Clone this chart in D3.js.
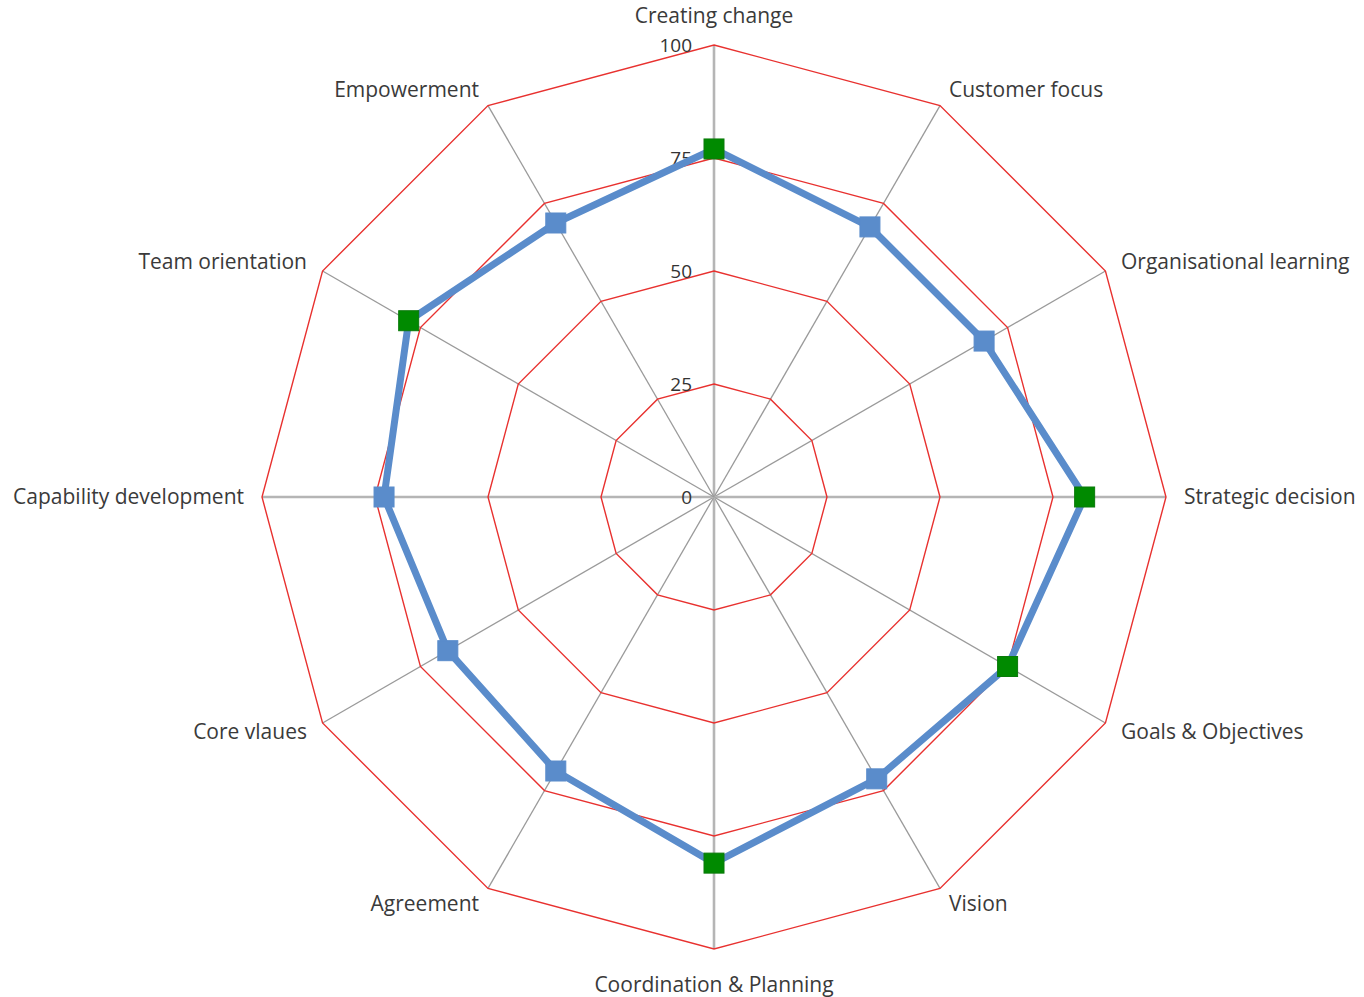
<!DOCTYPE html>
<html>
<head>
<meta charset="utf-8">
<script src="https://cdn.jsdelivr.net/npm/d3@7"></script>
<style>
  body { margin: 0; background: #fff; }
  text { font-family: "Open Sans", sans-serif; }
</style>
</head>
<body>
<div id="chart"></div>
<script>
// categories, clockwise from the top
var categories = ["Creating change", "Customer focus", "Organisational learning", "Strategic decision",
  "Goals & Objectives", "Vision", "Coordination & Planning", "Agreement", "Core vlaues",
  "Capability development", "Team orientation", "Empowerment"];
var scores = [77, 69, 69, 82, 75, 72, 81, 70, 68, 73, 78, 70];
// points drawn with green markers
var highlighted = ["Creating change", "Strategic decision", "Goals & Objectives",
  "Coordination & Planning", "Team orientation"];
var ticks = [0, 25, 50, 75, 100];

var width = 1364, height = 997;
var cx = 714, cy = 497, R = 452;

var svg = d3.select("#chart").append("svg")
    .attr("width", width)
    .attr("height", height);

var g = svg.append("g").attr("transform", `translate(${cx},${cy})`);

var r = d3.scaleLinear().domain([0, 100]).range([0, R]);
var angle = d3.scaleLinear().domain([0, categories.length]).range([0, 2 * Math.PI]);

function px(i, v) { return r(v) * Math.sin(angle(i)); }
function py(i, v) { return -r(v) * Math.cos(angle(i)); }

// spokes
g.selectAll(".spoke")
  .data(categories)
  .enter().append("line")
  .attr("class", "spoke")
  .attr("x1", 0).attr("y1", 0)
  .attr("x2", (d, i) => px(i, 100))
  .attr("y2", (d, i) => py(i, 100))
  .attr("stroke", (d, i) => i % 3 === 0 ? "#b5b5b5" : "#9a9a9a")
  .attr("stroke-width", (d, i) => i % 3 === 0 ? 2.6 : 1.3);

// grid polygons
var gridLine = d3.lineRadial()
    .angle((d, i) => angle(i))
    .radius(d => r(d))
    .curve(d3.curveLinearClosed);

g.selectAll(".grid")
  .data(ticks.filter(t => t > 0))
  .enter().append("path")
  .attr("class", "grid")
  .attr("d", t => gridLine(categories.map(() => t)))
  .attr("fill", "none")
  .attr("stroke", "#e8312f")
  .attr("stroke-width", 1.4);

// tick labels
g.selectAll(".tick-label")
  .data(ticks)
  .enter().append("text")
  .attr("class", "tick-label")
  .attr("x", -22)
  .attr("y", t => -r(t))
  .attr("dy", "0.35em")
  .attr("text-anchor", "end")
  .style("font-size", "19px")
  .style("fill", "#333")
  .text(t => t);

// series line
var seriesLine = d3.lineRadial()
    .angle((d, i) => angle(i))
    .radius(d => r(d))
    .curve(d3.curveLinearClosed);

g.append("path")
  .attr("d", seriesLine(scores))
  .attr("fill", "none")
  .attr("stroke", "#5a8ccb")
  .attr("stroke-width", 7)
  .attr("stroke-linejoin", "round");

// markers
var ms = 20;
g.selectAll(".marker")
  .data(scores)
  .enter().append("rect")
  .attr("class", "marker")
  .attr("x", (d, i) => px(i, d) - ms / 2)
  .attr("y", (d, i) => py(i, d) - ms / 2)
  .attr("width", ms)
  .attr("height", ms)
  .attr("fill", (d, i) => highlighted.includes(categories[i]) ? "#008a00" : "#5a8ccb")
  .attr("stroke", (d, i) => highlighted.includes(categories[i]) ? "#0a7a0a" : "#5a8ccb")
  .attr("stroke-width", 1);

// category labels
var pad = 18;
g.selectAll(".cat-label")
  .data(categories)
  .enter().append("text")
  .attr("class", "cat-label")
  .attr("x", (d, i) => (R + pad) * Math.sin(angle(i)))
  .attr("y", (d, i) => {
      var c = Math.cos(angle(i));
      var extra = c > 0.99 ? 11 : (c < -0.99 ? 18 : 0);
      return -(R + pad + extra) * c;
  })
  .attr("dy", "0.35em")
  .attr("text-anchor", (d, i) => {
      var s = Math.sin(angle(i));
      return Math.abs(s) < 0.01 ? "middle" : (s > 0 ? "start" : "end");
  })
  .style("font-size", "21px")
  .style("fill", "#3a3a3a")
  .text(d => d);
</script>
</body>
</html>
